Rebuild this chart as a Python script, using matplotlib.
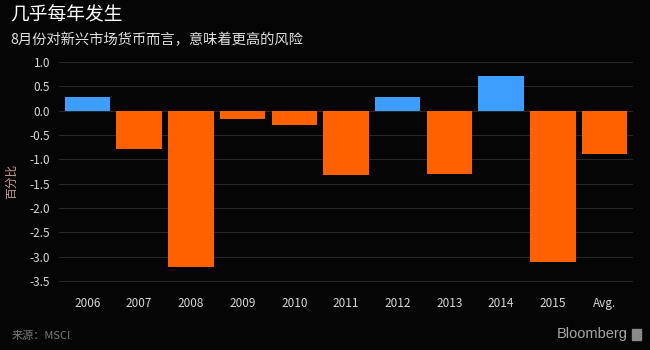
import matplotlib
matplotlib.use("Agg")
import matplotlib.pyplot as plt
from matplotlib.patches import Rectangle

plt.rcParams['font.family'] = ['Noto Sans CJK SC', 'DejaVu Sans']

labels = ["2006", "2007", "2008", "2009", "2010", "2011", "2012", "2013", "2014", "2015", "Avg."]
values = [0.28, -0.78, -3.2, -0.17, -0.30, -1.33, 0.28, -1.31, 0.71, -3.11, -0.89]
yticks = [1.0, 0.5, 0.0, -0.5, -1.0, -1.5, -2.0, -2.5, -3.0, -3.5]

BG = "#050505"
POS = "#3d9eff"
NEG = "#ff6000"

fig = plt.figure(figsize=(6.5, 3.5), dpi=100, facecolor=BG)
ax = fig.add_axes([59 / 650, 1 - 290 / 350, (633 - 59) / 650, (290 - 57) / 350])
ax.set_facecolor(BG)

colors = [POS if v >= 0 else NEG for v in values]
x = list(range(len(values)))
ax.bar(x, values, width=0.88, color=colors, zorder=3)

ax.set_xlim(-0.55, len(values) - 0.45)
ax.set_ylim(-3.68, 1.1)
ax.set_yticks(yticks)
ax.set_yticklabels([f"{t:.1f}" for t in yticks])
ax.set_xticks(x)
ax.set_xticklabels(labels)
ax.grid(axis="y", color="#2a2a2a", linewidth=0.7, zorder=0)
for s in ax.spines.values():
    s.set_visible(False)
ax.tick_params(length=0, colors="#d8d8d8", labelsize=8.5)
ax.tick_params(axis="y", pad=6.5)
ax.tick_params(axis="x", pad=5)

fig.text(12 / 650, 1 - 181 / 350, "百分比", rotation=90, color="#c89a9a",
         fontsize=8.5, ha="center", va="center")

fig.text(10 / 650, 1 - 14 / 350, "几乎每年发生", color="white", fontsize=13.5,
         ha="left", va="center")
fig.text(10 / 650, 1 - 40 / 350, "8月份对新兴市场货币而言，意味着更高的风险", color="#e0e0e0",
         fontsize=10.3, ha="left", va="center")
fig.text(12 / 650, 1 - 336 / 350, "来源：MSCI", color="#7a7a7a", fontsize=8,
         ha="left", va="center")
fig.text(628 / 650, 1 - 334 / 350, "Bloomberg", color="#a8a8a8", fontsize=10.5,
         ha="right", va="center", family=["Liberation Sans", "DejaVu Sans"])
fig.patches.append(Rectangle((632 / 650, 1 - 340 / 350), 9 / 650, 11 / 350,
                             transform=fig.transFigure, color="#8a8a8a"))

fig.savefig("out.png", dpi=100, facecolor=BG)
